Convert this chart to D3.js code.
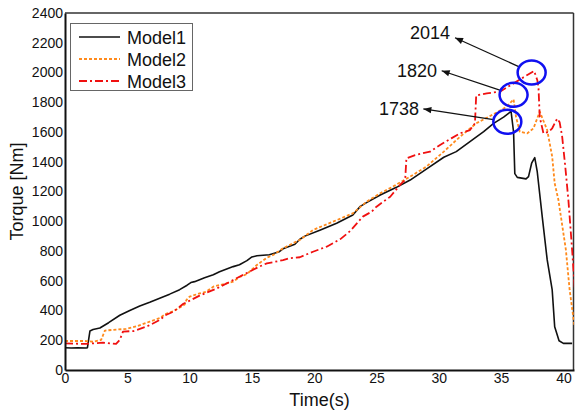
<!DOCTYPE html>
<html><head><meta charset="utf-8">
<script src="https://cdn.jsdelivr.net/npm/d3@7"></script>
<style>
body{margin:0;background:#fff;}
text{font-family:"Liberation Sans",Arial,sans-serif;fill:#111;}
</style></head>
<body><svg id="c" width="575" height="416"></svg>
<script>
// ---- data ----
const xTicks = [0,5,10,15,20,25,30,35,40];
const yTicks = [0,200,400,600,800,1000,1200,1400,1600,1800,2000,2200,2400];
const seriesNames = ["Model1","Model2","Model3"];

const model1T = [0,0.5,1.0,1.7,1.8,2.0,2.25,2.8,3.5,4.4,5.2,6.0,6.8,7.6,8.4,9.2,9.8,10.1,10.4,11.2,11.9,12.4,13.5,14.0,14.6,15.0,15.4,16.4,17.2,17.5,18.45,18.85,19.25,20.5,21.8,23.1,23.7,24.2,25.3,26.6,27.7,29.0,30.4,31.4,32.5,33.6,34.4,35.2,35.8,36.0,36.1,36.3,37.0,37.2,37.45,37.7,37.9,38.3,38.7,39.1,39.3,39.65,40.0,40.7];
const model1V = [150,148,150,148,150,262,272,282,318,368,400,430,455,482,510,540,570,588,594,620,640,660,695,708,735,760,768,775,795,815,845,879,900,941,986,1042,1100,1125,1176,1228,1277,1351,1430,1468,1535,1602,1658,1700,1738,1600,1320,1295,1285,1300,1390,1428,1333,1031,740,538,291,197,179,179];

const model2T = [0,1.6,2.25,2.9,3.2,3.85,4.9,5.8,6.8,7.6,8.1,8.7,9.6,9.75,10.0,10.8,11.35,11.9,13.5,14.0,14.6,15.4,16.2,16.7,17.5,18.3,18.85,19.9,21.5,23.1,24.2,25.3,26.3,27.7,29.0,30.4,31.7,33.0,34.4,35.45,36.0,36.2,36.5,37.1,37.6,38.0,38.1,38.7,39.1,39.3,39.6,40.2,40.5,40.9];
const model2V = [195,195,190,202,265,270,276,295,325,350,378,395,440,471,493,515,527,560,594,625,645,706,755,773,818,852,875,941,997,1053,1131,1188,1232,1300,1367,1468,1568,1658,1720,1770,1820,1700,1602,1591,1625,1714,1737,1613,1434,1255,1143,807,538,290];

const model3T = [0,1.7,2.25,3.05,3.6,4.1,4.4,4.65,5.5,6.5,6.8,7.6,8.1,8.7,9.5,10.8,12.2,13.5,14.0,14.8,15.6,16.2,16.7,17.5,18.0,18.85,19.9,21.0,21.5,22.1,22.9,23.9,24.6,25.0,26.1,27.0,27.3,27.4,28.1,29.3,30.1,31.0,31.7,32.5,32.9,33.0,33.85,34.9,36.0,37.1,37.65,37.9,38.0,38.1,38.4,38.8,39.1,39.5,39.7,39.9,40.15,40.4,40.7,40.95];
const model3V = [179,175,179,184,179,175,202,258,262,291,302,336,370,392,445,500,549,605,627,661,695,717,725,739,751,758,795,829,852,880,935,1031,1064,1098,1165,1255,1277,1423,1445,1468,1513,1557,1591,1613,1658,1845,1860,1871,1927,1983,2010,1950,1900,1700,1591,1600,1625,1690,1665,1569,1367,1143,807,500];

// annotations (data coordinates)
const annLabels = ["2014","1820","1738"];
const annCircleT = [37.45,36.0,35.5];
const annCircleV = [2000,1850,1669];
const annTipT = [31.3,30.23,28.76];
const annTipV = [2234,2012,1755];
const annTextT = [30.9,29.86,28.41];
const annTextV = [2266,2010,1755];

// ---- layout ----
const W=575,H=416, m={l:65,r:1,t:13,b:46};
const svg=d3.select("#c");
const x=d3.scaleLinear().domain([0,40.85]).range([m.l,W-m.r]);
const y=d3.scaleLinear().domain([0,2400]).range([H-m.b,m.t]);

svg.append("defs").append("clipPath").attr("id","clip")
  .append("rect").attr("x",m.l).attr("y",m.t).attr("width",W-m.r-m.l).attr("height",H-m.b-m.t);
const defs=svg.select("defs");
defs.append("marker").attr("id","arr").attr("viewBox","0 0 10 10").attr("refX",10).attr("refY",5)
  .attr("markerWidth",10).attr("markerHeight",8).attr("markerUnits","userSpaceOnUse").attr("orient","auto")
  .append("path").attr("d","M0,1 L10,5 L0,9 Z").attr("fill","#111");

// frame top/right
svg.append("line").attr("x1",m.l).attr("x2",W-m.r-0.5).attr("y1",m.t).attr("y2",m.t).attr("stroke","#333").attr("stroke-width",1.5);
svg.append("line").attr("x1",W-m.r-0.5).attr("x2",W-m.r-0.5).attr("y1",m.t).attr("y2",H-m.b).attr("stroke","#333").attr("stroke-width",1.5);

const series=[
  {T:model1T,V:model1V,color:"#111",dash:null,w:1.6},
  {T:model2T,V:model2V,color:"#ff8a1c",dash:"3,2",w:1.8},
  {T:model3T,V:model3V,color:"#f01010",dash:"8,3,2,3",w:1.8}
];
const line=d3.line().x(d=>x(d[0])).y(d=>y(d[1]));
const g=svg.append("g").attr("clip-path","url(#clip)");
series.forEach(s=>{
  g.append("path").datum(s.T.map((t,i)=>[t,s.V[i]]))
   .attr("d",line).attr("fill","none").attr("stroke",s.color).attr("stroke-width",s.w)
   .attr("stroke-dasharray",s.dash).attr("stroke-linejoin","round");
});

// axes
const xa=svg.append("g").attr("transform",`translate(0,${H-m.b})`)
  .call(d3.axisBottom(x).tickValues(xTicks).tickSize(0).tickPadding(3).tickFormat(d3.format("d")));
const ya=svg.append("g").attr("transform",`translate(${m.l},0)`)
  .call(d3.axisLeft(y).tickValues(yTicks).tickSize(0).tickPadding(2).tickFormat(d3.format("d")));
[xa,ya].forEach(a=>{
  a.select(".domain").attr("stroke","#111").attr("stroke-width",2);
  a.selectAll("text").style("font-size","14px").style("font-family","'Liberation Sans',Arial,sans-serif").attr("fill","#111");
});

// axis titles
svg.append("text").attr("x",(m.l+W-m.r)/2).attr("y",406).attr("text-anchor","middle")
  .style("font-size","18px").text("Time(s)");
svg.append("text").attr("transform",`translate(23,${(m.t+H-m.b)/2}) rotate(-90)`).attr("text-anchor","middle")
  .style("font-size","18px").text("Torque [Nm]");

// legend
const lg=svg.append("g");
lg.append("rect").attr("x",70.5).attr("y",23.5).attr("width",122).attr("height",67)
  .attr("fill","#fff").attr("stroke","#666").attr("stroke-width",1);
series.forEach((s,i)=>{
  const yy=37+i*22;
  lg.append("line").attr("x1",79).attr("x2",120).attr("y1",yy).attr("y2",yy)
    .attr("stroke",s.color).attr("stroke-width",s.w).attr("stroke-dasharray",s.dash);
  lg.append("text").attr("x",127).attr("y",yy+6.5).style("font-size","18px").text(seriesNames[i]);
});

// annotations
const rx=14, ry=12;
annLabels.forEach((lab,i)=>{
  const cx=x(annCircleT[i]), cy=y(annCircleV[i]);
  const tx=x(annTipT[i]), ty=y(annTipV[i]);
  const dx=tx-cx, dy=ty-cy, L=Math.hypot(dx,dy);
  const ux=dx/L, uy=dy/L;
  const k=1/Math.sqrt((ux*ux)/(rx*rx)+(uy*uy)/(ry*ry));
  svg.append("line").attr("x1",cx+ux*k).attr("y1",cy+uy*k).attr("x2",tx).attr("y2",ty)
    .attr("stroke","#111").attr("stroke-width",1.2).attr("marker-end","url(#arr)");
  svg.append("ellipse").attr("cx",cx).attr("cy",cy).attr("rx",rx).attr("ry",ry)
    .attr("fill","none").attr("stroke","#1010f0").attr("stroke-width",2.5);
  svg.append("text").attr("x",x(annTextT[i])).attr("y",y(annTextV[i])).attr("dy","0.35em")
    .attr("text-anchor","end").style("font-size","18px").text(lab);
});
</script></body></html>
